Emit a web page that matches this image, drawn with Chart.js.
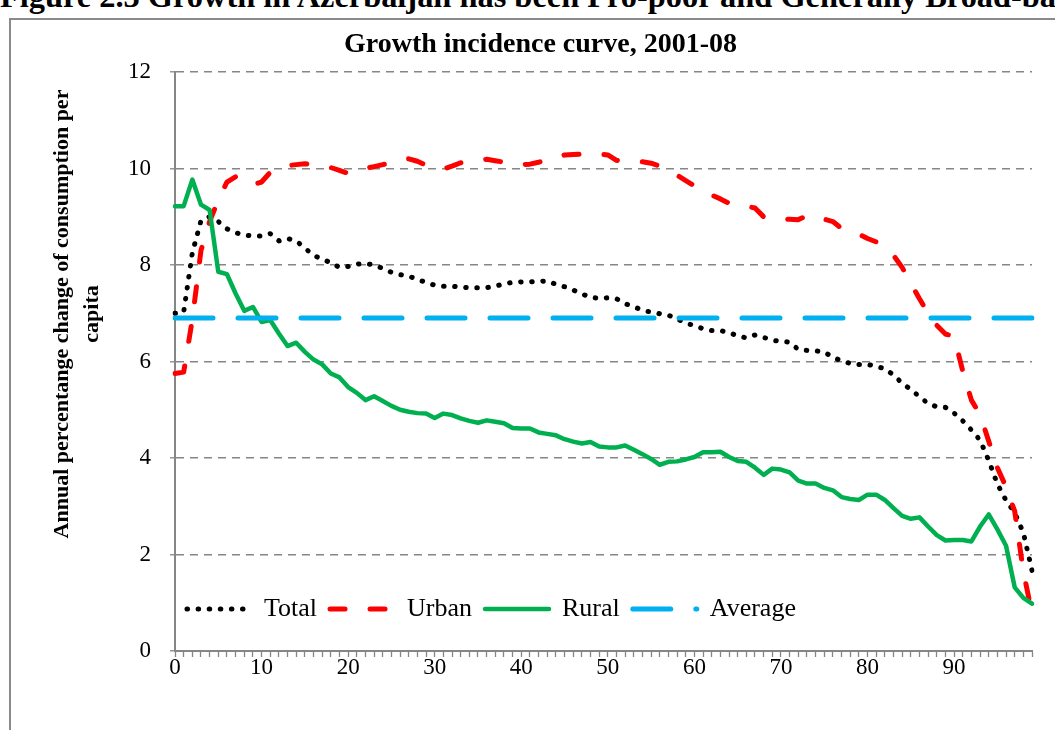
<!DOCTYPE html>
<html>
<head>
<meta charset="utf-8">
<script src="https://cdn.jsdelivr.net/npm/chart.js@4.4.1/dist/chart.umd.min.js"></script>
<style>
    body { margin: 0; width: 1055px; height: 730px; overflow: hidden; background: #fff; position: relative; }
    #caption { position: absolute; left: 0; top: -20px; font: bold 32.4px/32px "Liberation Serif", serif; white-space: nowrap; color: #000; }
    #frame { position: absolute; left: 9px; top: 18px; width: 1200px; height: 900px; border-left: 2px solid #8a8a8a; border-top: 2px solid #8a8a8a; }
    #chart { position: absolute; left: 0; top: 0; }
</style>
</head>
<body>
<div id="caption">Figure 2.3 Growth in Azerbaijan has been Pro-poor and Generally Broad-based</div>
<div id="frame"></div>
<canvas id="chart" width="1055" height="730"></canvas>
<script>
const percentiles = [
    '0','1','2','3','4','5','6','7','8','9',
    '10','11','12','13','14','15','16','17','18','19',
    '20','21','22','23','24','25','26','27','28','29',
    '30','31','32','33','34','35','36','37','38','39',
    '40','41','42','43','44','45','46','47','48','49',
    '50','51','52','53','54','55','56','57','58','59',
    '60','61','62','63','64','65','66','67','68','69',
    '70','71','72','73','74','75','76','77','78','79',
    '80','81','82','83','84','85','86','87','88','89',
    '90','91','92','93','94','95','96','97','98','99'
];

const totalValues = [
    7.00, 7.02, 8.25, 8.92, 9.00, 8.90, 8.75, 8.67, 8.62, 8.60,
    8.60, 8.65, 8.50, 8.55, 8.50, 8.35, 8.20, 8.12, 8.05, 7.95,
    7.97, 8.02, 8.03, 8.00, 7.93, 7.85, 7.80, 7.77, 7.70, 7.64,
    7.58, 7.56, 7.56, 7.54, 7.53, 7.53, 7.53, 7.56, 7.61, 7.64,
    7.65, 7.65, 7.66, 7.67, 7.60, 7.55, 7.48, 7.40, 7.33, 7.31,
    7.32, 7.30, 7.20, 7.13, 7.07, 7.02, 6.99, 6.96, 6.88, 6.80,
    6.74, 6.68, 6.64, 6.64, 6.60, 6.53, 6.49, 6.55, 6.50, 6.44,
    6.42, 6.40, 6.25, 6.23, 6.22, 6.20, 6.08, 6.02, 5.96, 5.94,
    5.94, 5.90, 5.85, 5.72, 5.55, 5.42, 5.27, 5.13, 5.06, 5.05,
    4.93, 4.77, 4.58, 4.37, 3.95, 3.46, 3.12, 2.87, 2.45, 1.67
];

const urbanValues = [
    5.75, 5.78, 6.87, 8.30, 8.90, 9.35, 9.72, 9.83, 9.70, 9.66,
    9.72, 9.92, 10.02, 10.06, 10.08, 10.10, 10.07, 10.04, 10.02, 9.96,
    9.90, 9.93, 10.00, 10.04, 10.08, 10.12, 10.18, 10.20, 10.15, 10.07,
    10.02, 9.99, 10.05, 10.12, 10.15, 10.18, 10.19, 10.16, 10.13, 10.10,
    10.08, 10.09, 10.13, 10.17, 10.22, 10.28, 10.29, 10.30, 10.31, 10.30,
    10.28, 10.17, 10.14, 10.14, 10.14, 10.11, 10.05, 9.97, 9.86, 9.75,
    9.64, 9.55, 9.45, 9.37, 9.28, 9.23, 9.22, 9.18, 9.00, 8.95,
    8.95, 8.95, 8.94, 9.02, 9.03, 8.95, 8.90, 8.76, 8.70, 8.64,
    8.55, 8.48, 8.36, 8.20, 7.95, 7.62, 7.30, 7.00, 6.75, 6.57,
    6.52, 5.80, 5.20, 4.90, 4.35, 3.80, 3.40, 2.90, 1.65, 0.78
];

const ruralValues = [
    9.22, 9.22, 9.77, 9.25, 9.14, 7.86, 7.81, 7.41, 7.05, 7.13,
    6.82, 6.86, 6.58, 6.32, 6.39, 6.20, 6.04, 5.94, 5.75, 5.67,
    5.47, 5.35, 5.20, 5.28, 5.18, 5.08, 5.00, 4.96, 4.93, 4.92,
    4.83, 4.92, 4.89, 4.82, 4.77, 4.73, 4.78, 4.75, 4.72, 4.62,
    4.61, 4.61, 4.53, 4.50, 4.47, 4.39, 4.34, 4.30, 4.33, 4.24,
    4.22, 4.22, 4.26, 4.17, 4.08, 3.98, 3.86, 3.92, 3.93, 3.97,
    4.02, 4.12, 4.12, 4.13, 4.02, 3.94, 3.92, 3.80, 3.65, 3.78,
    3.76, 3.70, 3.53, 3.47, 3.47, 3.38, 3.33, 3.19, 3.15, 3.13,
    3.24, 3.24, 3.13, 2.96, 2.80, 2.74, 2.77, 2.58, 2.40, 2.29,
    2.30, 2.30, 2.27, 2.58, 2.83, 2.52, 2.18, 1.32, 1.10, 0.98
];

const averageValues = [
    6.9, 6.9, 6.9, 6.9, 6.9, 6.9, 6.9, 6.9, 6.9, 6.9,
    6.9, 6.9, 6.9, 6.9, 6.9, 6.9, 6.9, 6.9, 6.9, 6.9,
    6.9, 6.9, 6.9, 6.9, 6.9, 6.9, 6.9, 6.9, 6.9, 6.9,
    6.9, 6.9, 6.9, 6.9, 6.9, 6.9, 6.9, 6.9, 6.9, 6.9,
    6.9, 6.9, 6.9, 6.9, 6.9, 6.9, 6.9, 6.9, 6.9, 6.9,
    6.9, 6.9, 6.9, 6.9, 6.9, 6.9, 6.9, 6.9, 6.9, 6.9,
    6.9, 6.9, 6.9, 6.9, 6.9, 6.9, 6.9, 6.9, 6.9, 6.9,
    6.9, 6.9, 6.9, 6.9, 6.9, 6.9, 6.9, 6.9, 6.9, 6.9,
    6.9, 6.9, 6.9, 6.9, 6.9, 6.9, 6.9, 6.9, 6.9, 6.9,
    6.9, 6.9, 6.9, 6.9, 6.9, 6.9, 6.9, 6.9, 6.9, 6.9
];

const yTicks = [0, 2, 4, 6, 8, 10, 12];
const chartTitle = 'Growth incidence curve, 2001-08';
const yTitleLines = ['Annual percentange change of consumption per', 'capita'];

const serif = '"Liberation Serif", "Times New Roman", serif';
const axisGray = '#868686';

// y axis title sits above the plot centre in the original, so it's drawn by hand
const yTitlePlugin = {
    id: 'yTitle',
    afterDraw(chart) {
        const ctx = chart.ctx;
        ctx.save();
        ctx.font = `bold 22px ${serif}`;
        ctx.fillStyle = '#000';
        ctx.textAlign = 'center';
        ctx.textBaseline = 'middle';
        yTitleLines.forEach((line, i) => {
            ctx.save();
            ctx.translate(62 + i * 30, 314);
            ctx.rotate(-Math.PI / 2);
            ctx.fillText(line, 0, 0);
            ctx.restore();
        });
        ctx.restore();
    }
};

// move the legend into the bottom-left corner of the plot area
const legendInsidePlugin = {
    id: 'legendInside',
    afterLayout(chart) {
        const lg = chart.legend;
        if (!lg) return;
        const h = lg.height;
        lg.left = 174;
        lg.right = 1040;
        lg.top = 583;
        lg.bottom = 583 + h;
    }
};

// with point styles the legend reads the point options, so put the line dash back
function legendLabels(chart) {
    const items = Chart.defaults.plugins.legend.labels.generateLabels(chart);
    items.forEach(item => {
        const ds = chart.data.datasets[item.datasetIndex];
        item.lineDash = ds.borderDash || [];
        item.lineWidth = ds.borderWidth;
        item.lineCap = ds.borderCapStyle;
        item.strokeStyle = ds.borderColor;
    });
    return items.sort((a, b) => a.datasetIndex - b.datasetIndex);
}

new Chart(document.getElementById('chart'), {
    type: 'line',
    data: {
        labels: percentiles,
        datasets: [
            {
                label: 'Total',
                data: totalValues,
                borderColor: '#000000',
                backgroundColor: '#000000',
                borderWidth: 5,
                borderDash: [0.5, 10.6],
                borderCapStyle: 'round',
                borderJoinStyle: 'round',
                pointRadius: 0,
                tension: 0,
                fill: false,
                order: 4
            },
            {
                label: 'Urban',
                data: urbanValues,
                borderColor: '#ff0000',
                backgroundColor: '#ff0000',
                borderWidth: 5,
                borderDash: [15, 25],
                borderCapStyle: 'round',
                borderJoinStyle: 'round',
                pointRadius: 0,
                tension: 0,
                fill: false,
                order: 3
            },
            {
                label: 'Rural',
                data: ruralValues,
                borderColor: '#00b050',
                backgroundColor: '#00b050',
                borderWidth: 4.5,
                borderCapStyle: 'round',
                borderJoinStyle: 'round',
                pointRadius: 0,
                tension: 0,
                fill: false,
                order: 2
            },
            {
                label: 'Average',
                data: averageValues,
                borderColor: '#00b0f0',
                backgroundColor: '#00b0f0',
                borderWidth: 5,
                borderDash: [38, 25],
                borderCapStyle: 'round',
                pointRadius: 0,
                tension: 0,
                fill: false,
                order: 1
            }
        ]
    },
    options: {
        responsive: false,
        devicePixelRatio: 1,
        animation: false,
        layout: { padding: { top: 18, left: 49, right: 23, bottom: 0 } },
        plugins: {
            title: {
                display: true,
                text: chartTitle,
                color: '#000',
                font: { family: serif, size: 28, weight: 'bold' },
                padding: { top: 10, bottom: 10.4 }
            },
            legend: {
                display: true,
                position: 'bottom',
                align: 'start',
                labels: {
                    color: '#000',
                    font: { family: serif, size: 26 },
                    usePointStyle: true,
                    pointStyle: 'line',
                    pointStyleWidth: 64,
                    padding: 13,
                    generateLabels: legendLabels
                }
            },
            tooltip: { enabled: false }
        },
        scales: {
            x: {
                type: 'category',
                offset: false,
                afterFit: (scale) => {
                    const lh = scale.chart.legend ? scale.chart.legend.height : 0;
                    scale.height = 79 - lh;
                },
                grid: {
                    drawOnChartArea: false,
                    drawTicks: true,
                    tickLength: 6,
                    tickColor: axisGray,
                    tickWidth: 1.3
                },
                border: { display: true, color: axisGray, width: 2 },
                ticks: {
                    autoSkip: false,
                    maxRotation: 0,
                    minRotation: 0,
                    padding: -3,
                    color: '#000',
                    font: { family: serif, size: 23 },
                    callback: (value, index) => (index % 10 === 0 ? percentiles[index] : '')
                }
            },
            y: {
                min: 0,
                max: 12,
                afterFit: (scale) => { scale.width = 126; },
                afterBuildTicks: (scale) => { scale.ticks = yTicks.map(v => ({ value: v })); },
                grid: {
                    color: axisGray,
                    lineWidth: 1.6,
                    drawTicks: true,
                    tickLength: 5,
                    tickColor: axisGray,
                    tickWidth: 1.3
                },
                border: { display: true, color: axisGray, width: 2, dash: [8, 6] },
                ticks: {
                    padding: 19,
                    color: '#000',
                    font: { family: serif, size: 23 }
                }
            }
        }
    },
    plugins: [yTitlePlugin, legendInsidePlugin]
});
</script>
</body>
</html>
